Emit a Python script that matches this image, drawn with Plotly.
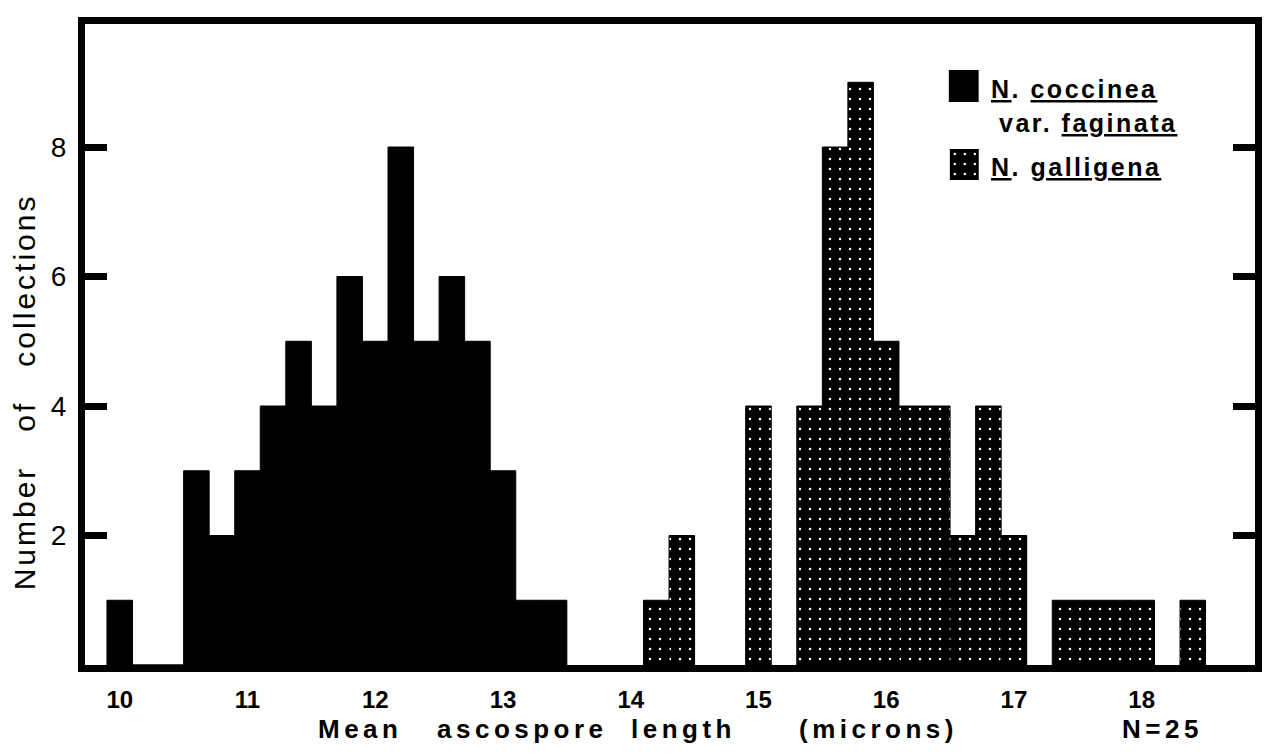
import plotly.graph_objects as go

# ---------------- data ----------------
bin_width = 0.2
coccinea_centers = [10.0, 10.2, 10.4, 10.6, 10.8, 11.0, 11.2, 11.4, 11.6, 11.8,
                    12.0, 12.2, 12.4, 12.6, 12.8, 13.0, 13.2, 13.4]
coccinea_counts = [1, 0, 0, 3, 2, 3, 4, 5, 4, 6,
                   5, 8, 5, 6, 5, 3, 1, 1]
galligena_centers = [14.2, 14.4, 15.0, 15.4, 15.6, 15.8, 16.0, 16.2, 16.4, 16.6,
                     16.8, 17.0, 17.4, 17.6, 17.8, 18.0, 18.4]
galligena_counts = [1, 2, 4, 4, 8, 9, 5, 4, 4, 2,
                    4, 2, 1, 1, 1, 1, 1]
x_tick_vals = [10, 11, 12, 13, 14, 15, 16, 17, 18]
y_tick_vals = [2, 4, 6, 8]

# ---------------- layout geometry ----------------
W, H = 1271, 754
L, R, T, B = 85, 9, 24, 89
PW, PH = W - L - R, H - T - B


def px(x):
    return (x - L) / PW


def py(y):
    return (H - B - y) / PH


FONT = "Liberation Sans, Arial, sans-serif"
dots = dict(shape=".", bgcolor="black", fgcolor="white", fgopacity=1,
            size=10, solidity=0.05, fillmode="replace")
edge = dict(width=1, color="black")

fig = go.Figure()
fig.add_trace(go.Bar(x=coccinea_centers, y=coccinea_counts, width=bin_width,
                     marker=dict(color="black", line=edge),
                     showlegend=False, hoverinfo="x+y"))
fig.add_trace(go.Bar(x=galligena_centers, y=galligena_counts, width=bin_width,
                     marker=dict(color="black", line=edge, pattern=dots),
                     showlegend=False, hoverinfo="x+y"))
# legend swatch for the dotted series (own tiny axes)
fig.add_trace(go.Bar(x=[0.5], y=[1], width=[1], xaxis="x2", yaxis="y2",
                     marker=dict(color="black", line=edge, pattern=dots),
                     showlegend=False, hoverinfo="skip"))

fig.update_layout(
    width=W, height=H,
    margin=dict(l=L, r=R, t=T, b=B, pad=0),
    paper_bgcolor="white", plot_bgcolor="white",
    barmode="overlay",
    font=dict(family=FONT, color="black"),
    xaxis=dict(range=[9.728, 18.887], showline=True, linewidth=7, linecolor="black",
               mirror=True, ticks="", tickvals=x_tick_vals, showgrid=False, zeroline=False,
               tickfont=dict(family=FONT, size=24, weight="bold"), ticklabelstandoff=7),
    yaxis=dict(range=[0, 9.9], showline=True, linewidth=7, linecolor="black",
               mirror="ticks", ticks="inside", ticklen=22, tickwidth=7, tickcolor="black",
               tickvals=y_tick_vals, showgrid=False, zeroline=False,
               tickfont=dict(family=FONT, size=28), ticklabelstandoff=6),
    xaxis2=dict(domain=[px(955), px(984)], range=[0, 1], anchor="y2", visible=False,
                fixedrange=True),
    yaxis2=dict(domain=[py(180), py(149)], range=[0, 1], anchor="x2", visible=False,
                fixedrange=True),
)

# black legend swatch
fig.add_shape(type="rect", xref="paper", yref="paper",
              x0=px(954), x1=px(984), y0=py(102), y1=py(70),
              fillcolor="black", line=dict(width=0))


def ann(text, x, y, size, bold=False, xanchor="left", spacing=0, angle=0):
    fig.add_annotation(
        text=f'<span style="letter-spacing:{spacing}px">{text}</span>',
        xref="paper", yref="paper", x=px(x), y=py(y),
        xanchor=xanchor, yanchor="middle", showarrow=False, textangle=angle,
        font=dict(family=FONT, size=size, color="black",
                  weight="bold" if bold else "normal"))


# legend text
ann("<u>N</u>. <u>coccinea</u>", 994, 89, 25, bold=True, spacing=2.5)
ann("var. <u>faginata</u>", 1002, 123, 25, bold=True, spacing=2.5)
ann("<u>N</u>. <u>galligena</u>", 994, 167, 25, bold=True, spacing=2.5)

# x-axis title words
for word, left in [("Mean", 317), ("ascospore", 437), ("length", 632),
                   ("(microns)", 801), ("N=25", 1126)]:
    ann(word, left, 729, 26, bold=True, spacing=4.5)

# y-axis title
nb = "\u00a0"
ann(f"Number{nb*3}of{nb*3}collections", 24, 392, 30, xanchor="center",
    spacing=3, angle=-90)

fig.write_html("out.html", config={"displayModeBar": False},
               post_script="document.body.style.margin='0';")
